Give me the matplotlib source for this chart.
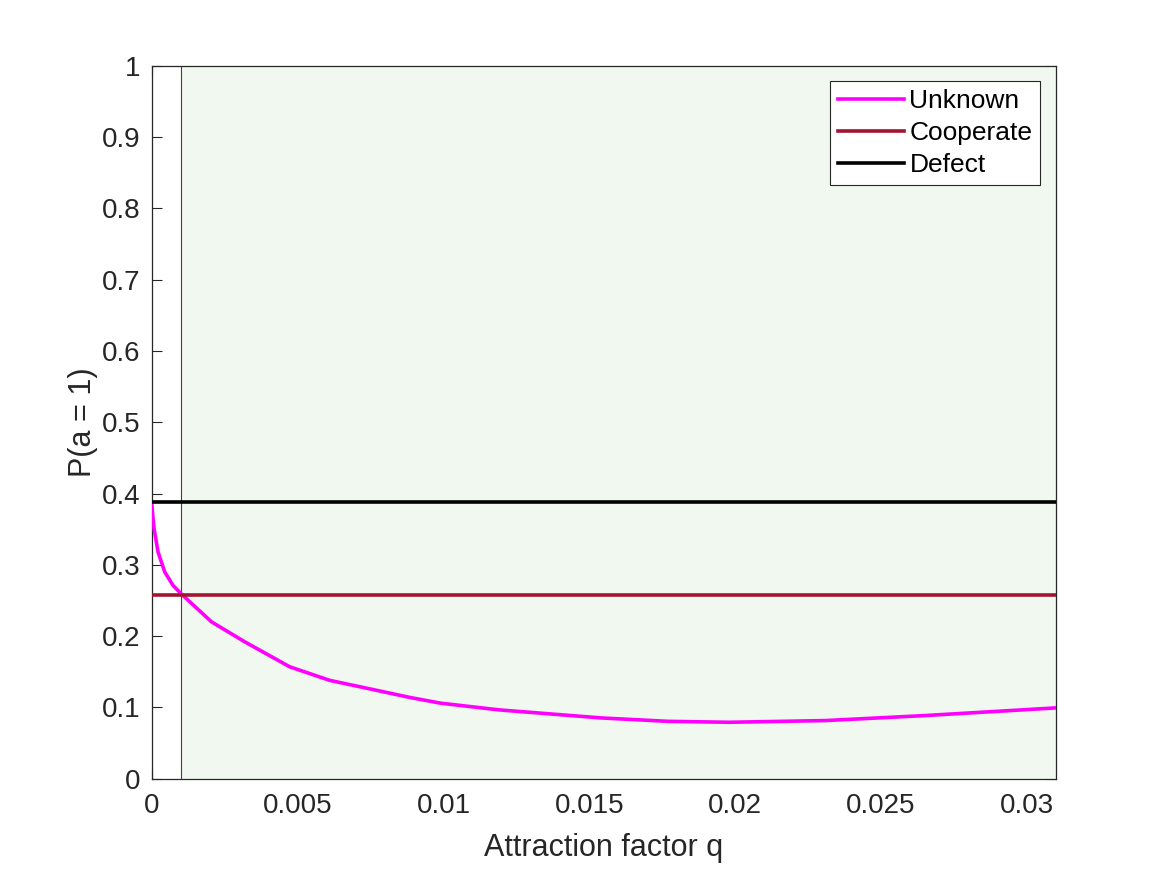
import matplotlib.pyplot as plt

plt.rcParams['font.family'] = ['Liberation Sans', 'DejaVu Sans']

# attraction factor q and P(a = 1) for the "Unknown" case
q = [0, 0.000034, 0.00008, 0.000217, 0.000446, 0.000731, 0.00107, 0.00205,
     0.00319, 0.00473, 0.0061, 0.00748, 0.00885, 0.0099, 0.0119, 0.0154,
     0.0177, 0.0198, 0.0231, 0.0265, 0.031]
p_unknown = [0.386, 0.37, 0.351, 0.318, 0.290, 0.271, 0.257, 0.220,
             0.192, 0.157, 0.138, 0.126, 0.114, 0.106, 0.0966, 0.0853,
             0.0805, 0.0792, 0.0816, 0.0886, 0.0994]
p_cooperate = 0.258
p_defect = 0.388
q_threshold = 0.001
q_max = 0.031

fig = plt.figure(figsize=(11.67, 8.75), dpi=100)
ax = fig.add_axes([0.13, 0.11, 0.775, 0.815])

ax.axvspan(q_threshold, q_max, color='#f1f8ef', zorder=2.6, lw=0)
ax.axvline(q_threshold, color='0.25', lw=0.8, zorder=2.65)

ax.plot(q, p_unknown, color='#ff00ff', lw=2.6, label='Unknown', zorder=3)
ax.axhline(p_cooperate, color='#a2142f', lw=2.6, label='Cooperate', zorder=3)
ax.axhline(p_defect, color='black', lw=2.6, label='Defect', zorder=3)

ax.set_xlim(0, q_max)
ax.set_ylim(0, 1)
ax.set_xticks([0, 0.005, 0.01, 0.015, 0.02, 0.025, 0.03])
ax.set_xticklabels(['0', '0.005', '0.01', '0.015', '0.02', '0.025', '0.03'])
ax.set_yticks([i / 10 for i in range(11)])
ax.set_yticklabels(['0', '0.1', '0.2', '0.3', '0.4', '0.5', '0.6', '0.7', '0.8', '0.9', '1'])
ax.tick_params(direction='in', length=7, width=0.8, labelsize=20, colors='#262626',
               labelcolor='#262626', top=True, right=True)
ax.tick_params(axis='x', pad=10)
ax.tick_params(axis='y', pad=8)
for s in ax.spines.values():
    s.set_color('#262626')
    s.set_linewidth(0.9)
    s.set_zorder(2.7)

ax.set_xlabel('Attraction factor q', fontsize=22, color='#262626', labelpad=10)
ax.set_ylabel('P(a = 1)', fontsize=22, color='#262626', labelpad=3)

leg = ax.legend(loc='upper right', fontsize=19, fancybox=False, framealpha=1,
                edgecolor='#262626', handlelength=2.5, handletextpad=0.2,
                borderaxespad=0.6, labelspacing=0.3, borderpad=0.3)
leg.get_frame().set_linewidth(0.8)
leg.set_zorder(4)

plt.savefig('out.png')
